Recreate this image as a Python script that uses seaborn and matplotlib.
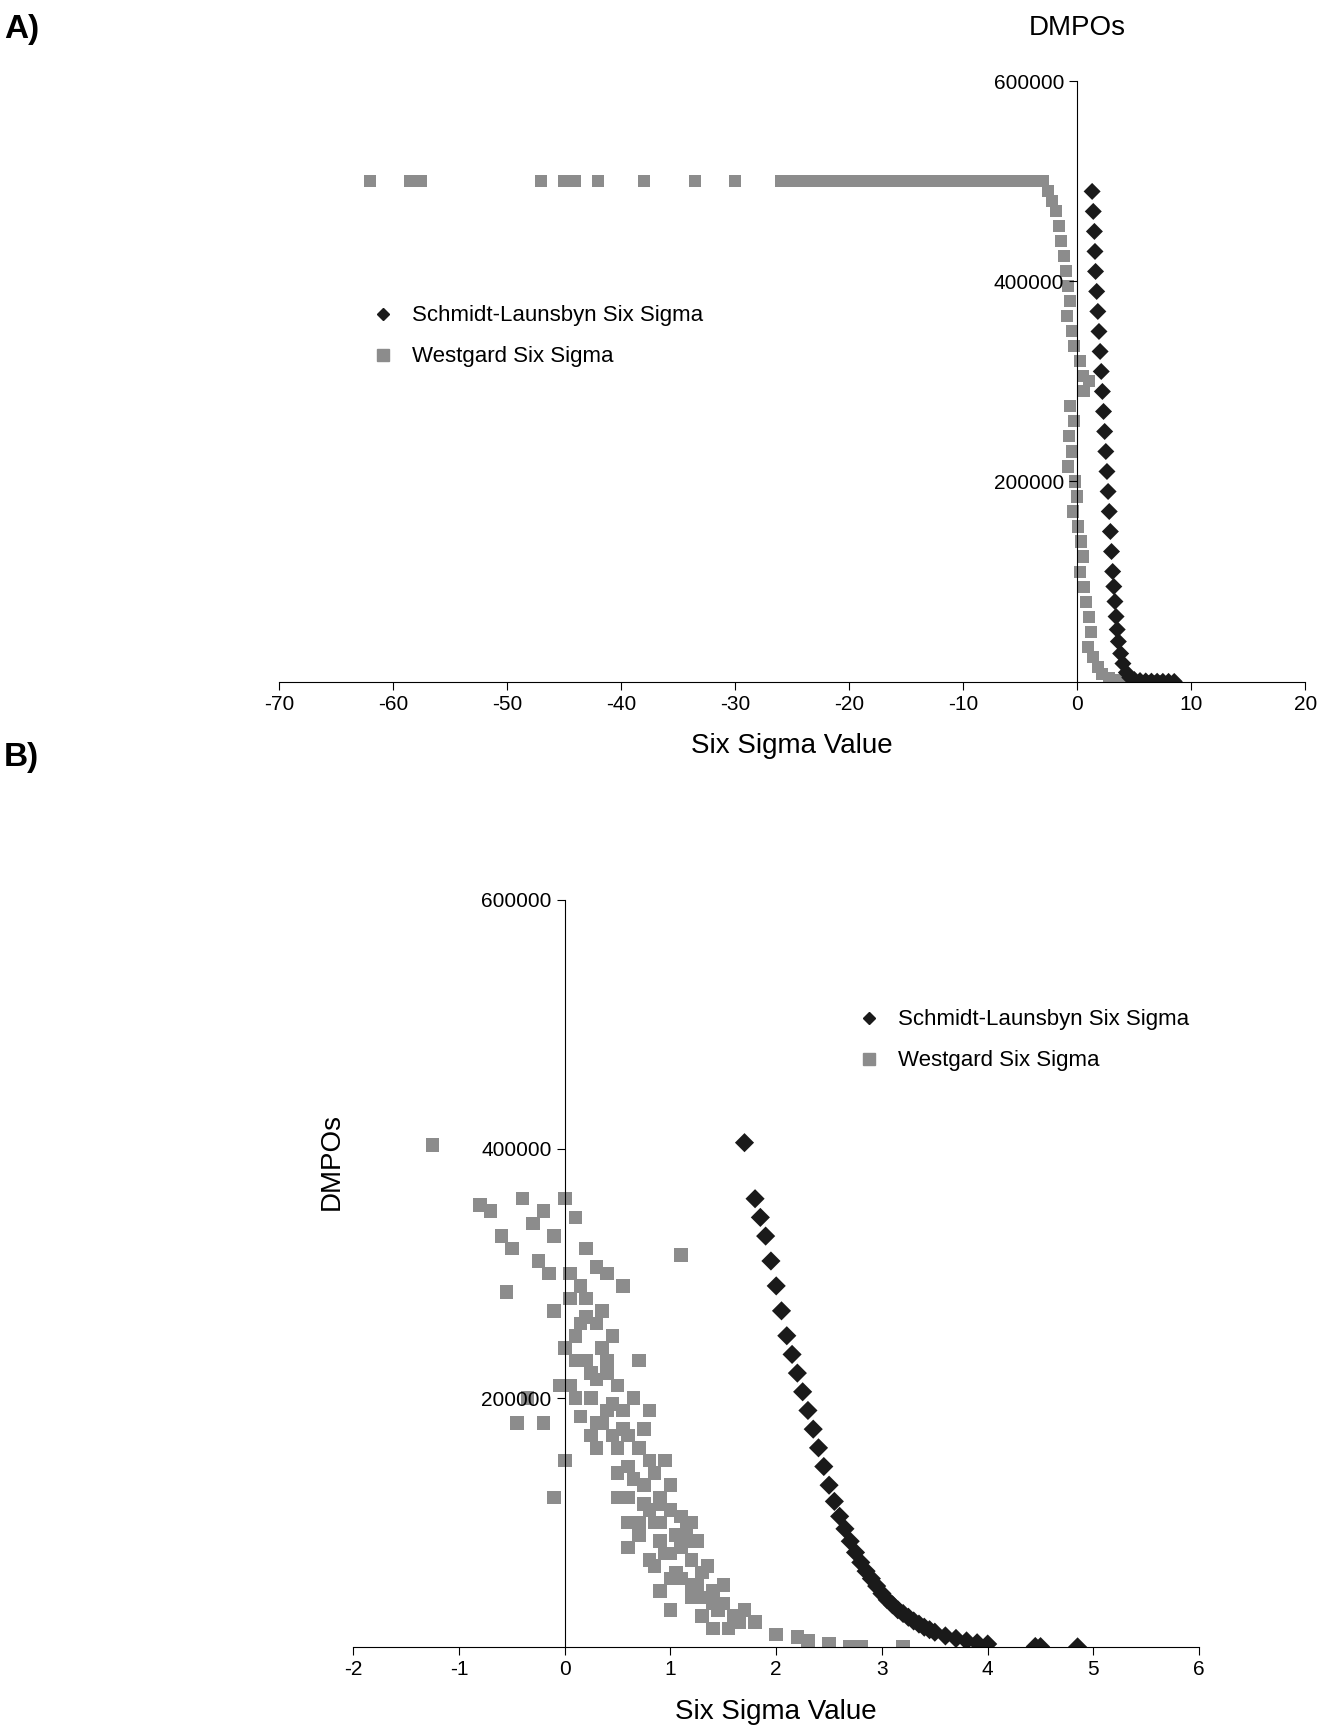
import numpy as np
import pandas as pd
import seaborn as sns
import matplotlib.pyplot as plt

plt.rcParams['font.family'] = 'Liberation Sans'
plt.rcParams['axes.unicode_minus'] = False

# Panel A values
a_west_x = [-62, -58.5, -57.5, -47, -45, -44, -42, -38, -33.5, -30, -26, -25, -24, -23, -22, -21,
            -20, -19, -18, -17, -16, -15, -14, -13, -12, -11, -10, -9, -8, -7, -6, -5, -4, -3,
            -2.6, -2.2, -1.9, -1.6, -1.4, -1.2, -1.0, -0.8, -0.6, -0.9, -0.5, -0.3, 0.2, 0.5,
            1.0, 0.6, -0.6, -0.3, -0.7, -0.5, -0.8, -0.2, 0.0, -0.4, 0.1, 0.3, 0.5, 0.2, 0.6,
            0.8, 1.0, 1.2, 0.9, 1.4, 1.8, 2.2, 2.8, 3.5, 4.5, 5.5, 6.5, 7.0]
a_west_y = [500000] * 34 + \
           [490000, 480000, 470000, 455000, 440000, 425000, 410000, 395000, 380000, 365000,
            350000, 335000, 320000, 305000, 300000, 290000, 275000, 260000, 245000, 230000,
            215000, 200000, 185000, 170000, 155000, 140000, 125000, 110000, 95000, 80000,
            65000, 50000, 35000, 25000, 15000, 8000, 4000, 2000, 1000, 500, 300, 200]
a_schm_x = [1.3, 1.4, 1.5, 1.55, 1.6, 1.7, 1.8, 1.9, 2.0, 2.1, 2.2, 2.3, 2.4, 2.5, 2.6, 2.7,
            2.8, 2.9, 3.0, 3.1, 3.2, 3.3, 3.4, 3.5, 3.6, 3.8, 4.0, 4.3, 4.6, 5.0, 5.5, 6.0,
            6.5, 7.0, 7.5, 8.0, 8.5]
a_schm_y = [490000, 470000, 450000, 430000, 410000, 390000, 370000, 350000, 330000, 310000,
            290000, 270000, 250000, 230000, 210000, 190000, 170000, 150000, 130000, 110000,
            95000, 80000, 65000, 52000, 40000, 28000, 18000, 9000, 4000, 2000, 1000, 600,
            400, 300, 200, 150, 100]

# Panel B values
b_west_x = [-1.25, -0.8, -0.7, -0.6, -0.55, -0.4, -0.3, -0.2, -0.1, 0.0, 0.1, -0.35, -0.45,
            -0.2, -0.1, 0.05, 0.2, 0.3, 0.4, 0.2, 0.3, 0.1, 0.2, 0.35, 0.4, 0.5, 0.25, 0.4,
            0.55, 0.6, 0.45, 0.3, 0.7, 0.8, 0.6, 0.5, 0.75, 0.9, 1.0, 0.85, 0.7, 1.05, 1.1,
            0.95, 1.2, 0.8, 1.3, 1.1, 1.4, 0.9, 1.2, 1.5, 1.0, 1.3, 1.6, 1.8, 1.4, 2.0, 2.2,
            1.1, 0.9, 0.6, 0.0, 0.1, -0.1, 0.6, 0.8, 0.7, 0.55, 2.5, 2.7, 2.8, 3.2, 2.3,
            -0.5, -0.25, 0.15, 0.0, 0.35, 0.45, 0.65, 0.85, 1.0, 1.15, 1.25, 1.35, 0.5, 0.75,
            0.95, 1.05, 1.5, 1.7, 0.25, 0.15, -0.05, 0.3, 0.5, 0.7, 0.4, 0.9, 1.2, 1.45,
            -0.15, 0.05, 0.1, 0.2, 0.3, 0.45, 0.55, 0.65, 0.8, 0.9, 1.0, 1.1, 1.2, 1.3,
            1.4, 1.55, 1.65, 0.35, 0.6, 0.75, 0.85, 1.0, 1.15, 1.25, 0.15, 0.25, 0.05]
b_west_y = [403000, 355000, 350000, 330000, 285000, 360000, 340000, 350000, 330000, 360000,
            345000, 200000, 180000, 180000, 270000, 300000, 320000, 305000, 300000, 280000,
            260000, 250000, 230000, 240000, 220000, 210000, 200000, 190000, 190000, 170000,
            170000, 160000, 160000, 150000, 145000, 140000, 130000, 120000, 110000, 100000,
            100000, 90000, 80000, 75000, 70000, 70000, 60000, 55000, 45000, 45000, 40000,
            35000, 30000, 25000, 25000, 20000, 15000, 10000, 8000, 315000, 100000, 80000,
            150000, 200000, 120000, 120000, 190000, 230000, 290000, 3000, 0, 0, 0, 5000,
            320000, 310000, 290000, 240000, 270000, 250000, 200000, 140000, 130000, 95000,
            85000, 65000, 160000, 175000, 150000, 60000, 50000, 30000, 220000, 260000,
            210000, 180000, 120000, 90000, 230000, 85000, 100000, 30000,
            300000, 280000, 230000, 265000, 215000, 195000, 175000, 135000, 110000, 115000,
            75000, 105000, 50000, 40000, 35000, 15000, 20000, 180000, 100000, 115000,
            65000, 55000, 85000, 50000, 185000, 170000, 210000]
b_schm_x = [1.7, 1.80, 1.85, 1.90, 1.95, 2.00, 2.05, 2.10, 2.15, 2.20, 2.25, 2.30, 2.35, 2.40,
            2.45, 2.50, 2.55, 2.60, 2.65, 2.70, 2.75, 2.80, 2.85, 2.90, 2.95, 3.00, 3.05,
            3.10, 3.15, 3.20, 3.25, 3.30, 3.35, 3.40, 3.45, 3.50, 3.60, 3.70, 3.80, 3.90,
            4.00, 4.45, 4.50, 4.85]
b_schm_y = [405000, 360000, 345000, 330000, 310000, 290000, 270000, 250000, 235000, 220000,
            205000, 190000, 175000, 160000, 145000, 130000, 117000, 105000, 95000, 85000,
            76000, 68000, 61000, 55000, 49000, 43000, 38000, 34000, 30000, 27000, 24000,
            21000, 18500, 16000, 14000, 12000, 9000, 7000, 5000, 3500, 2500, 500, 400, 200]

SL = 'Schmidt-Launsbyn Six Sigma'
WG = 'Westgard Six Sigma'
colors = {SL: '#1a1a1a', WG: '#8c8c8c'}
markers = {SL: 'D', WG: 's'}

def frame(wx, wy, sx, sy):
    return pd.concat([
        pd.DataFrame({'x': wx, 'y': wy, 'method': WG}),
        pd.DataFrame({'x': sx, 'y': sy, 'method': SL}),
    ])

fig = plt.figure(figsize=(13.28, 17.32), dpi=100)

def style(ax, xlim, xticks):
    ax.set_xlim(*xlim)
    ax.set_ylim(0, 600000)
    ax.set_xticks(xticks)
    ax.set_yticks([200000, 400000, 600000])
    ax.spines['top'].set_visible(False)
    ax.spines['right'].set_visible(False)
    ax.spines['left'].set_position(('data', 0))
    ax.tick_params(labelsize=15, direction='out', length=6)
    ax.set_xlabel('Six Sigma Value', fontsize=20, labelpad=14)

axA = fig.add_axes([0.210, 0.6065, 0.773, 0.3465])
dfA = frame(a_west_x, a_west_y, a_schm_x, a_schm_y)
sns.scatterplot(data=dfA, x='x', y='y', hue='method', style='method', palette=colors,
                markers=markers, s=75, edgecolor='none', ax=axA, legend=False,
                hue_order=[WG, SL])
style(axA, (-70, 20), range(-70, 21, 10))
axA.set_ylabel('')
axA.text(0, 640000, 'DMPOs', fontsize=20, ha='center', va='bottom')

axB = fig.add_axes([0.266, 0.049, 0.637, 0.4315])
dfB = frame(b_west_x, b_west_y, b_schm_x, b_schm_y)
sns.scatterplot(data=dfB, x='x', y='y', hue='method', style='method', palette=colors,
                markers=markers, s=95, edgecolor='none', ax=axB, legend=False,
                hue_order=[WG, SL])
style(axB, (-2, 6), range(-2, 7))
axB.set_ylabel('DMPOs', fontsize=20)
axB.yaxis.set_label_coords(-0.01, 0.65)

for ax, loc in [(axA, (0.06, 0.66)), (axB, (0.56, 0.88))]:
    h = [plt.Line2D([], [], marker='D', color=colors[SL], ls='', ms=6),
         plt.Line2D([], [], marker='s', color=colors[WG], ls='', ms=8)]
    ax.legend(h, [SL, WG], loc='upper left', bbox_to_anchor=loc, frameon=False,
              fontsize=16, handletextpad=0.3, labelspacing=0.9)

fig.text(0.003, 0.978, 'A)', fontsize=24, fontweight='bold')
fig.text(0.003, 0.558, 'B)', fontsize=24, fontweight='bold')

fig.savefig('out.png', dpi=100)
